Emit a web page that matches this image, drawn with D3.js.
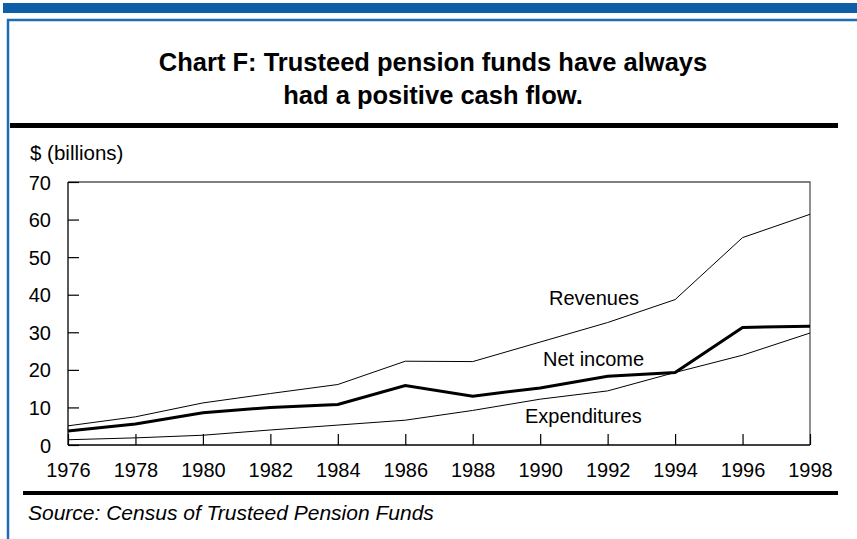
<!DOCTYPE html>
<meta charset="utf-8">
<style>
  body { margin: 0; background: #fff; }
  svg { display: block; font-family: "Liberation Sans", Arial, Helvetica, sans-serif; }
  .axis text { font-size: 20px; fill: #000; font-family: "Liberation Sans", Arial, sans-serif; }
  .axis path { display: none; }
  .axis line { stroke: #000; stroke-width: 1.2; }
</style>
<body>
<svg id="chart" width="857" height="539"></svg>
<script src="https://d3js.org/d3.v7.min.js"></script>
<script>
// values in $ billions
var years = [1976, 1978, 1980, 1982, 1984, 1986, 1988, 1990, 1992, 1994, 1996, 1998];
var revenues     = [5.1, 7.5, 11.2, 13.7, 16.1, 22.3, 22.2, 27.4, 32.6, 38.7, 55.2, 61.4];
var netIncome    = [3.7, 5.6, 8.6, 10.0, 10.8, 15.8, 13.0, 15.2, 18.3, 19.3, 31.3, 31.6];
var expenditures = [1.4, 1.9, 2.6, 4.0, 5.3, 6.6, 9.2, 12.2, 14.4, 19.3, 23.9, 29.8];
var yTicks = [0, 10, 20, 30, 40, 50, 60, 70];

var svg = d3.select("#chart");

// blue band + frame
svg.append("rect").attr("x", 3).attr("y", 3).attr("width", 854).attr("height", 10).attr("fill", "#0d5fa8");
svg.append("path").attr("d", "M8,545 V20 H860").attr("fill", "none").attr("stroke", "#1f6bb5").attr("stroke-width", 2.5);

// title
var title = svg.append("text").attr("text-anchor", "middle").attr("font-weight", "bold").attr("font-size", 25.5);
title.append("tspan").attr("x", 433).attr("y", 71).text("Chart F: Trusteed pension funds have always");
title.append("tspan").attr("x", 433).attr("y", 104).text("had a positive cash flow.");

svg.append("line").attr("x1", 10).attr("x2", 838).attr("y1", 125.5).attr("y2", 125.5)
  .attr("stroke", "#000").attr("stroke-width", 5);

var x0 = 68, x1 = 810, yTop = 182, yBot = 445;
var x = d3.scaleLinear().domain([1976, 1998]).range([x0, x1]);
var y = d3.scaleLinear().domain([0, 70]).range([yBot, yTop]);

svg.append("text").attr("x", 30).attr("y", 160).attr("font-size", 20.5).text("$ (billions)");

// plot frame
svg.append("path").attr("d", "M" + x0 + "," + yTop + "H" + x1 + "V" + yBot)
  .attr("fill", "none").attr("stroke", "#555").attr("stroke-width", 1.3);

svg.append("g").attr("class", "axis").attr("transform", "translate(" + x0 + ",0)")
  .call(d3.axisRight(y).tickValues(yTicks).tickSize(11).tickFormat(d3.format("d")))
  .call(function (g) { g.selectAll("text").attr("x", -17).attr("text-anchor", "end").attr("dy", "0.35em"); });

svg.append("g").attr("class", "axis").attr("transform", "translate(0," + yBot + ")")
  .call(d3.axisTop(x).tickValues(years).tickSize(11).tickFormat(d3.format("d")))
  .call(function (g) { g.selectAll("text").attr("y", 32).attr("dy", 0); });

svg.append("line").attr("x1", x0).attr("x2", x0).attr("y1", yTop).attr("y2", yBot).attr("stroke", "#000").attr("stroke-width", 1.3);
svg.append("line").attr("x1", x0).attr("x2", x1).attr("y1", yBot).attr("y2", yBot).attr("stroke", "#000").attr("stroke-width", 1.3);

var line = d3.line().x(function (d, i) { return x(years[i]); }).y(function (d) { return y(d); });
[[revenues, 1], [expenditures, 1], [netIncome, 3]].forEach(function (s) {
  svg.append("path").datum(s[0]).attr("d", line).attr("fill", "none")
    .attr("stroke", "#000").attr("stroke-width", s[1]).attr("stroke-linejoin", "miter");
});

// series labels
var labels = [["Revenues", 549, 305], ["Net income", 543, 366], ["Expenditures", 525, 423]];
labels.forEach(function (l) {
  svg.append("text").attr("x", l[1]).attr("y", l[2]).attr("font-size", 20).text(l[0]);
});

svg.append("line").attr("x1", 23).attr("x2", 838).attr("y1", 493).attr("y2", 493)
  .attr("stroke", "#000").attr("stroke-width", 4);

svg.append("text").attr("x", 28).attr("y", 520).attr("font-size", 21).attr("font-style", "italic")
  .text("Source: Census of Trusteed Pension Funds");
</script>
</body>
